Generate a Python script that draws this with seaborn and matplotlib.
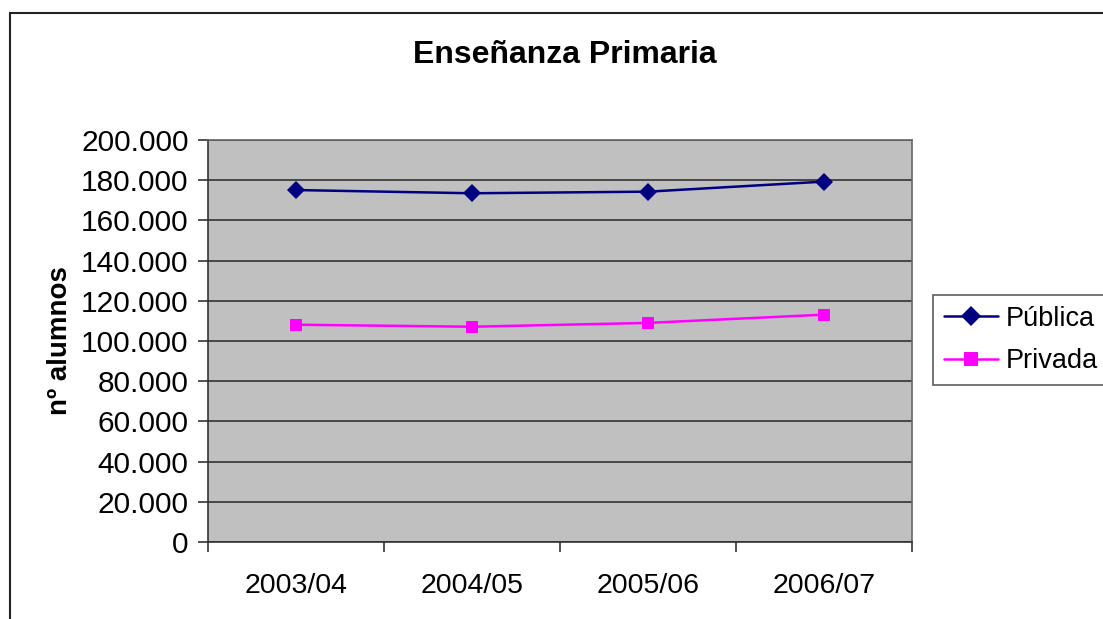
import pandas as pd
import numpy as np
import matplotlib
matplotlib.use("Agg")
import matplotlib.pyplot as plt
import seaborn as sns
from matplotlib.patches import Rectangle
from matplotlib.lines import Line2D
from matplotlib.ticker import FuncFormatter

cursos = ["2003/04", "2004/05", "2005/06", "2006/07"]
publica = [175100, 173500, 174300, 179300]
privada = [108100, 107100, 109000, 113100]

df = pd.DataFrame({
    "pos": list(range(len(cursos))) * 2,
    "alumnos": publica + privada,
    "tipo": ["Pública"] * len(cursos) + ["Privada"] * len(cursos),
})

sns.set_theme(style="white")
plt.rcParams["font.family"] = ["Liberation Sans", "DejaVu Sans"]
plt.rcParams["text.color"] = "black"
plt.rcParams["axes.labelcolor"] = "black"

fig = plt.figure(figsize=(11.03, 6.19), dpi=100)
ax = fig.add_axes([208 / 1103, 1 - 542 / 619, (912 - 208) / 1103, (542 - 140) / 619])

# outer chart border (cut on right and bottom like the reference)
fig.patches.append(Rectangle((10 / 1103, -0.05), 1.2, 1 - 13 / 619 + 0.05,
                             transform=fig.transFigure, fill=False,
                             edgecolor="#222222", linewidth=1.5))

ax.set_facecolor("#c0c0c0")
sns.lineplot(data=df, x="pos", y="alumnos", hue="tipo", style="tipo",
             palette={"Pública": "#000080", "Privada": "#ff00ff"},
             markers={"Pública": "D", "Privada": "s"},
             dashes=False, markersize=9, linewidth=1.8,
             markeredgewidth=0, ax=ax, legend=False)

ax.set_xlim(-0.5, len(cursos) - 0.5)
ax.set_ylim(0, 200000)
ax.set_yticks(np.arange(0, 200001, 20000))
ax.yaxis.set_major_formatter(FuncFormatter(lambda v, p: f"{int(v):,}".replace(",", ".")))
ax.yaxis.grid(True, color="#333333", linewidth=1.2)
ax.set_axisbelow(True)

ax.set_xticks(np.arange(-0.5, len(cursos), 1.0))
ax.set_xticklabels([])
ax.set_xticks(range(len(cursos)), minor=True)
ax.set_xticklabels(cursos, minor=True)
ax.tick_params(axis="x", which="major", bottom=True, length=7, width=1.2,
               color="#333333", direction="out")
ax.tick_params(axis="x", which="minor", bottom=True, length=0, labelsize=20.5,
               pad=22, labelcolor="black")
ax.tick_params(axis="y", left=True, length=7, width=1.2, color="#333333",
               direction="out", labelsize=21.5, pad=7, labelcolor="black")

for s in ax.spines.values():
    s.set_color("#666666")
    s.set_linewidth(1.2)
ax.spines["left"].set_color("#333333")
ax.spines["bottom"].set_color("#333333")

ax.set_xlabel("")
ax.set_ylabel("nº alumnos", fontsize=20, fontweight="bold", labelpad=5.5)
fig.text(565 / 1103, 1 - 55 / 619, "Enseñanza Primaria", ha="center", va="center",
         fontsize=23, fontweight="bold")

handles = [Line2D([], [], color="#000080", marker="D", markersize=10, markeredgewidth=0, linewidth=1.8),
           Line2D([], [], color="#ff00ff", marker="s", markersize=10, markeredgewidth=0, linewidth=1.8)]
leg = fig.legend(handles, ["Pública", "Privada"], loc="upper left",
                 bbox_to_anchor=(933 / 1103, 1 - 295 / 619), fontsize=19.5,
                 frameon=True, fancybox=False, borderpad=0.4, handlelength=2.0,
                 handletextpad=0.3, labelspacing=0.6, borderaxespad=0)
leg.get_frame().set_edgecolor("#333333")
leg.get_frame().set_linewidth(1.2)

fig.savefig("out.png", dpi=100)
